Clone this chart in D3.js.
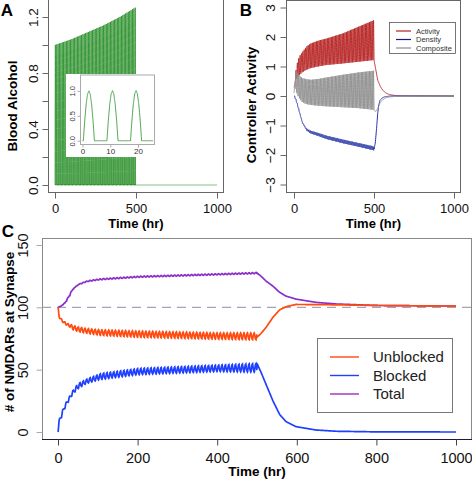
<!DOCTYPE html>
<html><head><meta charset="utf-8">
<script src="https://cdn.jsdelivr.net/npm/d3@7/dist/d3.min.js"></script>
<style>html,body{margin:0;padding:0;background:#fff}svg{display:block}</style>
</head><body>
<svg id="chart" width="472" height="479" font-family="'Liberation Sans', Arial, sans-serif"></svg>
<script>
// ================= DATA =================
const dosePeriod = 8.5;   // hr between drinking bouts (from inset)
const doseStop = 500;     // hr, end of drinking
// one bout of blood alcohol (normalised), hr within bout
const boutTimes = [0, 0.3, 0.8, 1.3, 1.8, 2.3, 2.8, 3.3, 3.8, 4.3, 8.5];
const boutShape = [0, 0, 0.40, 0.72, 0.93, 1.0, 0.93, 0.72, 0.40, 0, 0];
// peak blood alcohol of the bouts (panel A)
const peakTimes = [0, 100, 200, 300, 400, 500];
const peakLevels = [1.0, 1.04, 1.09, 1.14, 1.20, 1.27];
// response shape within one bout (rise while drinking, relax afterwards)
const riseTimes = [0, 0.5, 1.5, 2.5, 3.5, 4.5];
const riseShape = [0, 0.05, 0.40, 0.75, 0.95, 1.0];
const fallTimes = [4.5, 5.5, 6.5, 7.5, 8.5];
const fallShape = [1.0, 0.6, 0.3, 0.1, 0];

// Panel B: level between bouts (base) and at end of bout (peak)
const bTimes        = [0, 5, 10, 20, 30, 50, 75, 100, 150, 200, 300, 400, 500];
const activityBase  = [0.30, 0.45, 0.55, 0.60, 0.68, 0.80, 0.88, 0.94, 1.00, 1.05, 1.10, 1.16, 1.22];
const activityPeak  = [0.35, 0.70, 0.95, 1.20, 1.35, 1.50, 1.68, 1.78, 1.88, 1.95, 2.12, 2.35, 2.58];
const compositeBase = [0.10, 0.35, 0.20, 0.05, -0.05, -0.20, -0.27, -0.30, -0.33, -0.35, -0.38, -0.41, -0.47];
const compositePeak = [0.30, 0.85, 0.85, 0.75, 0.68, 0.60, 0.57, 0.55, 0.58, 0.63, 0.72, 0.80, 0.86];
const densityBase   = [0, -0.05, -0.11, -0.28, -0.48, -0.86, -1.08, -1.17, -1.25, -1.34, -1.47, -1.59, -1.71];
const densityPeak   = [0, -0.06, -0.13, -0.31, -0.52, -0.93, -1.17, -1.27, -1.36, -1.46, -1.60, -1.72, -1.85];
// Panel B: recovery after drinking stops
const activityRecT = [500, 508, 523, 540, 554, 575, 596, 640, 1000];
const activityRec  = [1.22, 0.99, 0.54, 0.32, 0.20, 0.10, 0.05, 0.01, 0];
const compositeRecT = [500, 505, 510, 520, 530, 540, 555, 575, 600, 650, 1000];
const compositeRec  = [-0.47, -0.51, -0.53, -0.45, -0.33, -0.22, -0.12, -0.06, -0.03, -0.01, 0];
const densityRecT = [500, 508, 517, 523, 530, 537, 550, 565, 600, 1000];
const densityRec  = [-1.80, -1.60, -1.04, -0.60, -0.30, -0.15, -0.07, -0.03, 0, 0];

// Panel C: receptor counts, level at bout start (base) and at end of bout (peak)
const cTimes        = [0, 8, 16, 24, 34, 47, 72, 105, 200, 400, 500];
const unblockedBase = [100, 91, 88.5, 87, 86, 84.5, 83, 82, 81, 79.5, 79.5];
const unblockedPeak = [91, 88, 86, 84.5, 82, 80.5, 79, 77.5, 76, 74.5, 74];
const blockedBase   = [0, 11, 18, 23, 28.5, 34, 39, 42, 46, 48.5, 48];
const blockedPeak   = [11, 18, 23.5, 28, 33.5, 39, 43, 47, 51, 53.7, 55];
const totalBase     = [100, 101, 103, 107, 113, 117.5, 120.5, 122, 124, 126, 127];
const totalPeak     = [100.5, 102, 104.5, 108.5, 114.5, 118.5, 121.5, 123, 125, 127, 128];
// Panel C: recovery
const cRecTimes    = [500, 510, 523, 540, 557, 573, 598, 648, 699, 800, 1000];
const unblockedRec = [76, 79, 84, 92, 98, 100.5, 102.3, 102.2, 102, 101.5, 101];
const blockedRec   = [55, 48, 38, 25, 14, 8.3, 4.3, 1.6, 0.6, 0.1, 0];
const totalRec     = [127.6, 125, 121, 117, 112, 109, 106.6, 104, 102.7, 101.5, 101];

// tick values / labels
const timeTicksAB = [0, 500, 1000];
const timeTicksC = [0, 200, 400, 600, 800, 1000];
const alcTicks = [0, 0.2, 0.4, 0.6, 0.8, 1.0, 1.2];
const alcLabels = [0, 0.4, 0.8, 1.2];
const ctrlTicks = [-3, -2, -1, 0, 1, 2, 3];
const nmdaTicks = [0, 50, 100, 150];
const insetXTicks = [0, 10, 20];
const insetYTicks = [0, 0.5, 1.0];
const legendB = ["Activity", "Density", "Composite"];
const legendC = ["Unblocked", "Blocked", "Total"];

// ================= helpers =================
const svg = d3.select('#chart');
const lin = (d, r) => d3.scaleLinear().domain(d).range(r).clamp(true);
const boutS = lin(boutTimes, boutShape);
const peakS = lin(peakTimes, peakLevels);
const riseS = lin(riseTimes, riseShape);
const fallS = lin(fallTimes, fallShape);

function alcohol(t) {
  if (t > doseStop) return 0;
  const p = t - Math.floor(t / dosePeriod) * dosePeriod;
  return peakS(t) * boutS(p);
}
function cyc(times, base, peak) {
  const bS = lin(times, base), pS = lin(times, peak);
  return t => {
    const k = Math.floor(t / dosePeriod), s = k * dosePeriod, p = t - s;
    const S = bS(s), E = pS(s);
    if (p <= 4.5) return S + (E - S) * riseS(p);
    const Sn = bS(Math.min(s + dosePeriod, doseStop));
    return Sn + (E - Sn) * fallS(p);
  };
}
function build(times, base, peak, recT, rec, step) {
  const f = cyc(times, base, peak);
  const pts = d3.range(0, doseStop, step).map(t => [t, f(t)]);
  const r = lin(recT, rec);
  d3.range(doseStop, 1000.001, 1).forEach(t => pts.push([t, r(t)]));
  return pts;
}
function frame(x0, y0, x1, y1, col) {
  svg.append('rect').attr('x', x0).attr('y', y0).attr('width', x1 - x0).attr('height', y1 - y0)
    .attr('fill', 'none').attr('stroke', col).attr('stroke-width', 1);
}
function leftAxis(scale, x, ticks, fmt, fs, off, col) {
  const g = svg.append('g').attr('transform', `translate(${x},0)`)
    .call(d3.axisLeft(scale).tickValues(ticks).tickSize(6).tickFormat(fmt));
  g.select('.domain').remove();
  g.selectAll('.tick line').attr('stroke', col);
  g.selectAll('.tick text').attr('transform', 'rotate(-90)').attr('x', 0).attr('y', -off)
    .attr('dy', 0).attr('text-anchor', 'middle').attr('fill', '#111')
    .style('font-size', fs + 'px').style('font-family', "'Liberation Sans', Arial, sans-serif");
  return g;
}
function bottomAxis(scale, y, ticks, fs, off, col) {
  const g = svg.append('g').attr('transform', `translate(0,${y})`)
    .call(d3.axisBottom(scale).tickValues(ticks).tickSize(6).tickFormat(d3.format('d')));
  g.select('.domain').remove();
  g.selectAll('.tick line').attr('stroke', col);
  g.selectAll('.tick text').attr('y', off).attr('dy', 0).attr('fill', '#111')
    .style('font-size', fs + 'px').style('font-family', "'Liberation Sans', Arial, sans-serif");
  return g;
}
function boldText(x, y, txt, fs, rot) {
  const t = svg.append('text').attr('font-weight', 'bold').attr('font-size', fs).attr('fill', '#000')
    .attr('text-anchor', 'middle').text(txt);
  if (rot) t.attr('transform', `translate(${x},${y}) rotate(-90)`);
  else t.attr('x', x).attr('y', y);
  return t;
}

// ================= PANEL A =================
const xA = d3.scaleLinear().domain([0, 1000]).range([55, 217]);
const yA = d3.scaleLinear().domain([0, 1.2]).range([185, 17]);
const lineA = d3.line().x(d => xA(d[0])).y(d => yA(d[1]));
const alcPts = d3.range(0, doseStop + 0.001, 0.1).map(t => [t, alcohol(t)]);
svg.append('path').attr('d', lineA(alcPts)).attr('fill', 'none').attr('stroke', '#228b22').attr('stroke-width', 0.75);
svg.append('path').attr('d', lineA([[doseStop, 0], [1000, 0]])).attr('fill', 'none').attr('stroke', '#86c486').attr('stroke-width', 1);
frame(48.5, -1, 223.5, 192.5, '#666');
leftAxis(yA, 48.5, alcTicks, d => alcLabels.includes(d) ? d3.format('.1f')(d) : '', 13.5, 11, '#666');
bottomAxis(xA, 192.5, timeTicksAB, 13, 20.5, '#666');
boldText(136, 228, 'Time (hr)', 13, false);
boldText(16.5, 106, 'Blood Alcohol', 13.5, true);
boldText(7, 16, 'A', 17, false);

// inset
svg.append('rect').attr('x', 66).attr('y', 74).attr('width', 89).attr('height', 83).attr('fill', '#fff');
const xI = d3.scaleLinear().domain([0, 20]).range([82.5, 138]);
const yI = d3.scaleLinear().domain([0, 1]).range([140.7, 90.9]);
const insetPts = d3.range(0, 25.5, 0.05).map(t => [t, alcohol(t)]);
svg.append('path').attr('d', d3.line().x(d => xI(d[0])).y(d => yI(d[1]))(insetPts))
  .attr('fill', 'none').attr('stroke', '#3a9a3a').attr('stroke-width', 0.9);
frame(80.5, 75, 154.5, 144.5, '#aaa');
{
  const g = svg.append('g').attr('transform', 'translate(80.5,0)')
    .call(d3.axisLeft(yI).tickValues(insetYTicks).tickSize(3).tickFormat(d3.format('.1f')));
  g.select('.domain').remove();
  g.selectAll('.tick line').attr('stroke', '#aaa');
  g.selectAll('.tick text').attr('transform', 'rotate(-90)').attr('x', 0).attr('y', -5.5).attr('dy', 0)
    .attr('text-anchor', 'middle').attr('fill', '#333').style('font-size', '7.5px')
    .style('font-family', "'Liberation Sans', Arial, sans-serif");
  const gx = svg.append('g').attr('transform', 'translate(0,144.5)')
    .call(d3.axisBottom(xI).tickValues(insetXTicks).tickSize(3).tickFormat(d3.format('d')));
  gx.select('.domain').remove();
  gx.selectAll('.tick line').attr('stroke', '#aaa');
  gx.selectAll('.tick text').attr('y', 9.5).attr('dy', 0).attr('fill', '#333').style('font-size', '8px')
    .style('font-family', "'Liberation Sans', Arial, sans-serif");
}

// ================= PANEL B =================
const xB = d3.scaleLinear().domain([0, 1000]).range([294, 454]);
const yB = d3.scaleLinear().domain([-3, 3]).range([184.5, 7.5]);
const lineB = d3.line().x(d => xB(d[0])).y(d => yB(d[1]));
const colAct = '#b52020', colDen = '#2233a8', colCom = '#8e8e8e';
const actPts = build(bTimes, activityBase, activityPeak, activityRecT, activityRec, 0.25);
const denPts = build(bTimes, densityBase, densityPeak, densityRecT, densityRec, 0.25);
const comPts = build(bTimes, compositeBase, compositePeak, compositeRecT, compositeRec, 0.25);
svg.append('path').attr('d', lineB(actPts)).attr('fill', 'none').attr('stroke', colAct).attr('stroke-width', 0.9);
svg.append('path').attr('d', lineB(denPts)).attr('fill', 'none').attr('stroke', colDen).attr('stroke-width', 1);
svg.append('path').attr('d', lineB(comPts)).attr('fill', 'none').attr('stroke', colCom).attr('stroke-width', 0.9);
frame(286.5, 0.5, 460.5, 192.5, '#666');
leftAxis(yB, 286.5, ctrlTicks, d3.format('d'), 13.5, 12, '#666');
bottomAxis(xB, 192.5, timeTicksAB, 13, 20.5, '#666');
boldText(373.5, 228, 'Time (hr)', 13, false);
boldText(255.5, 105, 'Controller Activity', 13.5, true);
boldText(246, 16, 'B', 17, false);
// legend B
{
  svg.append('rect').attr('x', 389.5).attr('y', 22.5).attr('width', 66).attr('height', 31)
    .attr('fill', '#fff').attr('stroke', '#555').attr('stroke-width', 0.8);
  const cols = [colAct, '#1a1a8c', colCom];
  legendB.forEach((name, i) => {
    const y = 31 + i * 8.5;
    svg.append('line').attr('x1', 396).attr('x2', 411).attr('y1', y).attr('y2', y)
      .attr('stroke', cols[i]).attr('stroke-width', 1.2);
    svg.append('text').attr('x', 416).attr('y', y + 2.6).attr('font-size', 7.5).attr('fill', '#333').text(name);
  });
}

// ================= PANEL C =================
const xC = d3.scaleLinear().domain([0, 1000]).range([58, 456]);
const yC = d3.scaleLinear().domain([0, 150]).range([432, 245]);
const lineC = d3.line().x(d => xC(d[0])).y(d => yC(d[1]));
svg.append('line').attr('x1', 42).attr('x2', 472).attr('y1', yC(100)).attr('y2', yC(100))
  .attr('stroke', '#a4a4b8').attr('stroke-width', 1.3).attr('stroke-dasharray', '9,6');
const colUn = '#ff4a10', colBl = '#1f40ff', colTot = '#8b2fc9';
const unPts = build(cTimes, unblockedBase, unblockedPeak, cRecTimes, unblockedRec, 0.25);
const blPts = build(cTimes, blockedBase, blockedPeak, cRecTimes, blockedRec, 0.25);
const totPts = build(cTimes, totalBase, totalPeak, cRecTimes, totalRec, 0.25);
svg.append('path').attr('d', lineC(totPts)).attr('fill', 'none').attr('stroke', colTot).attr('stroke-width', 1.7);
svg.append('path').attr('d', lineC(unPts)).attr('fill', 'none').attr('stroke', colUn).attr('stroke-width', 1.7);
svg.append('path').attr('d', lineC(blPts)).attr('fill', 'none').attr('stroke', colBl).attr('stroke-width', 1.7);
frame(42.5, 238.5, 471.5, 439.5, '#888');
svg.append('line').attr('x1', 42).attr('x2', 472).attr('y1', 439.5).attr('y2', 439.5).attr('stroke', '#1a1a3a');
leftAxis(yC, 42.5, nmdaTicks, d3.format('d'), 14.5, 15, '#aaa');
bottomAxis(xC, 439.5, timeTicksC, 14.5, 23, '#444');
boldText(257, 476, 'Time (hr)', 13.5, false);
boldText(13.5, 332, '# of NMDARs at Synapse', 13.5, true);
boldText(8, 237, 'C', 17, false);
// legend C
{
  svg.append('rect').attr('x', 317.5).attr('y', 338.5).attr('width', 135).attr('height', 74)
    .attr('fill', '#fff').attr('stroke', '#777').attr('stroke-width', 1);
  const cols = [colUn, colBl, '#9933bb'];
  legendC.forEach((name, i) => {
    const y = 357 + i * 18.5;
    svg.append('line').attr('x1', 330).attr('x2', 359).attr('y1', y).attr('y2', y)
      .attr('stroke', cols[i]).attr('stroke-width', 1.4);
    svg.append('text').attr('x', 373).attr('y', y + 5.3).attr('font-size', 15).attr('fill', '#222').text(name);
  });
}
</script>
</body></html>
